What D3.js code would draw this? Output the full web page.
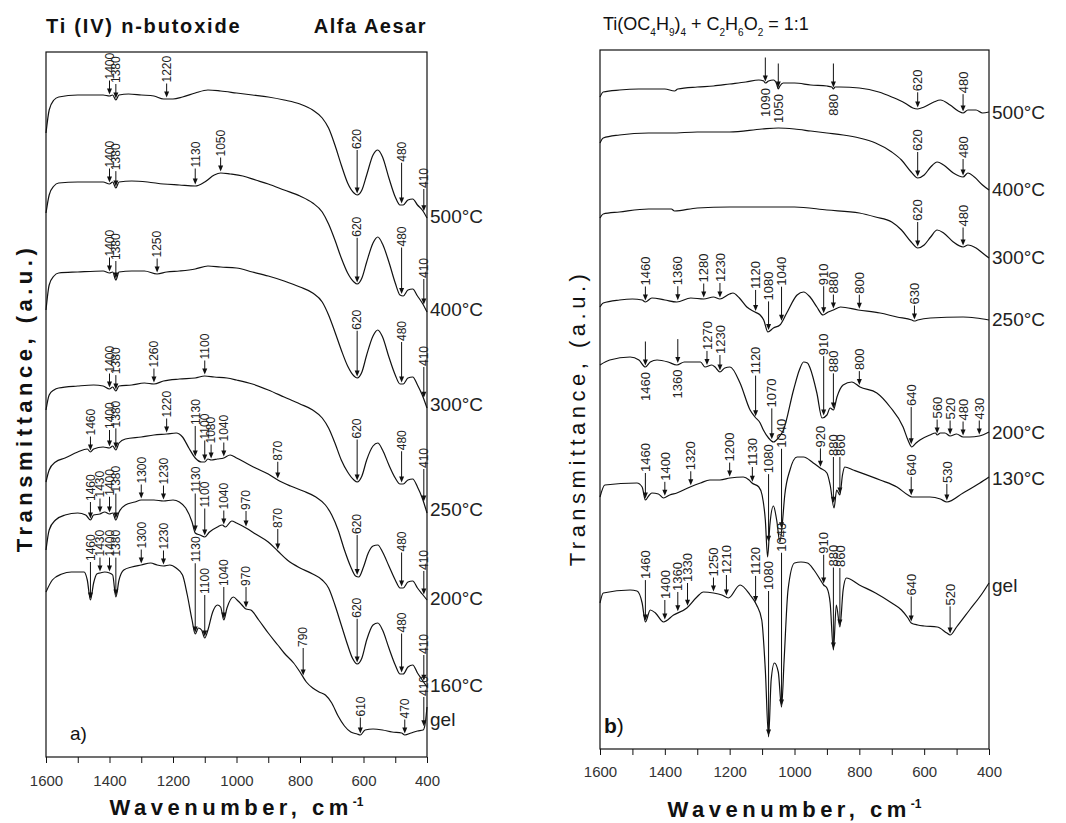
<!DOCTYPE html>
<html>
<head>
<meta charset="utf-8">
<script src="https://cdn.jsdelivr.net/npm/d3@7"></script>
<style>
body { margin: 0; background: #fff; }
text { font-family: "Liberation Sans", Arial, sans-serif; }
</style>
</head>
<body>
<svg width="1066" height="823"></svg>
<script>
// ---- data: [wavenumber, transmittance (a.u., offset per sample)] ----
var xTicks = [1600, 1500, 1400, 1300, 1200, 1100, 1000, 900, 800, 700, 600, 500, 400];

// panel a) Ti (IV) n-butoxide, Alfa Aesar
var aNames = ["500°C", "400°C", "300°C", "250°C", "200°C", "160°C", "gel"];

var a500 = [[1600,86.7],[1590,89.0],[1575,90.0],[1560,90.3],[1500,90.5],[1450,90.5],[1420,90.5],[1400,90.4],[1390,90.5],[1380,90.0],[1370,90.5],[1340,90.6],[1300,90.5],[1260,90.4],[1230,90.1],[1200,90.1],[1170,90.3],[1130,90.7],[1090,91.0],[1050,90.9],[1000,90.7],[950,90.5],[900,90.3],[850,90.0],[800,89.6],[760,89.0],[730,88.2],[710,87.2],[690,85.5],[670,83.5],[650,81.7],[630,80.7],[620,80.5],[605,81.0],[590,82.5],[570,84.5],[555,85.0],[540,84.3],[520,82.2],[500,80.3],[485,79.5],[475,79.5],[460,80.0],[445,80.1],[430,79.5],[415,79.0],[400,78.2]];
var a400 = [[1600,78.7],[1590,80.5],[1575,81.4],[1560,81.7],[1500,81.8],[1420,81.8],[1400,81.6],[1390,81.8],[1380,81.2],[1370,81.8],[1330,81.9],[1280,81.8],[1230,81.6],[1180,81.5],[1130,81.4],[1100,81.8],[1070,82.5],[1050,82.7],[1020,82.6],[980,82.4],[940,82.0],[900,81.6],[850,81.0],[800,80.4],[760,79.7],[730,78.8],[710,77.6],[690,76.0],[670,74.2],[650,72.7],[630,71.8],[620,71.6],[605,72.2],[590,73.8],[570,75.7],[555,76.3],[540,75.6],[520,73.8],[500,71.7],[485,70.5],[475,70.4],[460,71.0],[445,71.1],[430,70.4],[415,69.7],[400,68.8]];
var a300 = [[1600,69.0],[1590,71.5],[1575,72.4],[1560,72.7],[1500,72.8],[1420,72.9],[1400,72.7],[1390,72.8],[1380,72.0],[1370,72.8],[1330,72.9],[1290,72.9],[1250,72.6],[1220,72.8],[1180,72.9],[1130,73.1],[1090,73.4],[1050,73.3],[1000,73.2],[950,72.8],[900,72.4],[850,71.9],[800,71.3],[760,70.7],[730,69.8],[710,68.5],[690,66.8],[670,65.0],[650,63.4],[630,62.4],[620,62.2],[605,62.8],[590,64.5],[570,66.4],[555,67.0],[540,66.3],[520,64.3],[500,62.5],[485,61.6],[475,61.6],[460,62.2],[445,62.3],[430,61.5],[415,60.5],[400,59.2]];
var a250 = [[1600,59.0],[1590,60.5],[1575,61.0],[1560,61.2],[1500,61.4],[1450,61.5],[1420,61.4],[1400,61.1],[1390,61.3],[1380,60.9],[1370,61.4],[1330,61.5],[1290,61.7],[1260,61.6],[1230,61.9],[1180,62.1],[1130,62.2],[1100,62.4],[1070,62.3],[1030,62.2],[1000,62.0],[950,61.6],[900,61.0],[850,60.3],[800,59.6],[760,59.0],[730,58.2],[710,57.2],[690,55.7],[670,54.0],[650,52.8],[630,52.0],[620,51.8],[605,52.4],[590,54.0],[570,55.4],[555,55.7],[540,55.0],[520,53.5],[500,52.2],[485,51.6],[475,51.6],[460,52.0],[445,52.1],[430,51.3],[415,50.2],[400,48.7]];
var a200 = [[1600,51.8],[1590,53.0],[1570,53.8],[1540,54.2],[1500,54.8],[1470,55.1],[1460,54.8],[1450,55.1],[1420,55.3],[1400,55.2],[1390,55.4],[1380,55.0],[1370,55.7],[1350,56.1],[1300,56.3],[1260,56.5],[1220,56.6],[1190,56.7],[1170,56.3],[1150,55.2],[1130,54.2],[1110,53.8],[1100,53.8],[1090,54.1],[1080,54.0],[1060,54.1],[1040,54.2],[1020,54.5],[1000,54.2],[970,53.7],[940,53.2],[900,52.6],[870,52.0],[830,51.4],[790,50.9],[750,50.3],[720,49.5],[700,48.5],[680,47.0],[660,45.0],[640,43.3],[625,42.4],[615,42.3],[600,43.3],[585,44.7],[570,45.4],[555,45.5],[540,44.8],[520,43.4],[500,42.0],[485,41.2],[475,41.2],[460,41.8],[445,41.9],[430,41.2],[415,40.6],[400,40.0]];
var a160 = [[1600,45.0],[1590,47.0],[1570,48.0],[1540,48.5],[1500,48.7],[1475,48.5],[1460,48.0],[1450,48.5],[1430,48.6],[1415,48.8],[1400,48.6],[1390,48.7],[1380,48.0],[1370,48.8],[1350,49.5],[1320,49.8],[1300,50.0],[1260,50.0],[1230,49.9],[1200,50.0],[1180,49.8],[1160,49.2],[1140,47.8],[1130,46.7],[1115,46.5],[1100,46.3],[1085,46.8],[1060,47.3],[1045,47.5],[1035,47.3],[1015,47.9],[1000,47.7],[970,47.2],[940,46.6],[900,45.8],[870,44.9],[840,44.0],[800,43.2],[760,42.6],[730,42.0],[710,41.2],[690,39.5],[670,37.5],[650,35.5],[635,34.2],[620,33.6],[605,34.2],[590,36.0],[570,37.5],[555,37.7],[540,37.0],[520,35.2],[500,33.5],[485,32.6],[475,32.6],[460,33.3],[445,33.5],[430,32.7],[415,32.0],[400,31.3]];
var aGel = [[1600,40.8],[1580,42.0],[1550,42.6],[1520,42.8],[1480,42.8],[1470,42.0],[1460,40.0],[1450,41.7],[1440,42.6],[1430,42.7],[1415,42.8],[1400,42.7],[1390,42.5],[1380,40.3],[1370,42.0],[1355,43.0],[1330,43.3],[1300,43.5],[1270,43.7],[1250,43.5],[1230,43.4],[1210,43.5],[1190,43.2],[1170,42.5],[1155,40.5],[1140,38.0],[1130,36.6],[1120,37.2],[1110,37.0],[1100,36.2],[1090,37.0],[1075,38.8],[1060,39.5],[1050,39.3],[1040,38.0],[1030,39.2],[1010,40.3],[995,39.9],[980,39.4],[970,39.1],[955,39.0],[930,38.0],[900,36.7],[870,35.5],[850,34.7],[820,33.7],[800,32.8],[780,31.8],[760,31.2],[740,30.8],[720,30.5],[700,29.7],[680,28.4],[660,27.4],[640,26.8],[620,26.6],[610,26.5],[595,27.0],[570,27.1],[540,27.0],[510,26.8],[480,26.7],[470,26.5],[450,26.7],[430,26.9],[412,27.0],[405,27.8],[400,29.3]];

var aPeaks = [
  [1400, 1380, 1220, 620, 480, 410],
  [1400, 1380, 1130, 1050, 620, 480, 410],
  [1400, 1380, 1250, 620, 480, 410],
  [1400, 1380, 1260, 1100, 620, 480, 410],
  [1460, 1400, 1380, 1220, 1130, 1100, 1080, 1040, 870, 620, 480, 410],
  [1460, 1430, 1400, 1380, 1300, 1230, 1130, 1100, 1040, 970, 870, 620, 480, 410],
  [1460, 1430, 1400, 1380, 1300, 1230, 1130, 1100, 1040, 970, 790, 610, 470, 410]
];

// panel b) Ti(OC4H9)4 + C2H6O2 = 1:1
var bNames = ["500°C", "400°C", "300°C", "250°C", "200°C", "130°C", "gel"];

var b500 = [[1600,90.3],[1590,90.8],[1540,91.0],[1480,91.1],[1400,91.1],[1370,90.9],[1360,91.1],[1300,91.3],[1250,91.4],[1200,91.6],[1150,91.8],[1110,92.0],[1095,91.9],[1090,91.7],[1080,91.9],[1065,92.0],[1055,91.6],[1050,91.1],[1045,91.4],[1035,91.7],[1000,91.7],[950,91.5],[900,91.4],[885,91.3],[880,91.1],[875,91.3],[860,91.3],[800,91.2],[740,90.8],[700,90.3],[660,89.7],[635,89.2],[620,89.1],[600,89.3],[570,89.8],[550,90.0],[520,89.5],[495,88.9],[480,88.7],[465,89.0],[440,89.0],[420,88.7],[400,88.8]];
var b400 = [[1600,85.7],[1590,86.2],[1540,86.5],[1450,86.7],[1380,86.7],[1300,86.8],[1200,86.8],[1100,87.1],[1050,87.2],[1000,87.1],[950,86.9],[900,86.7],[850,86.5],[800,86.2],[750,85.7],[700,84.8],[670,84.0],[640,82.8],[620,82.2],[600,82.5],[580,83.3],[560,83.8],[540,83.5],[510,82.7],[480,82.3],[465,82.7],[445,82.3],[420,81.5],[400,81.0]];
var b300 = [[1600,78.2],[1590,78.6],[1540,78.8],[1450,79.1],[1380,79.1],[1370,78.9],[1300,79.2],[1200,79.3],[1100,79.3],[1000,79.3],[900,79.0],[800,78.7],[750,78.3],[700,77.8],[670,77.0],[640,75.8],[620,75.2],[600,75.5],[580,76.3],[560,77.0],[540,76.7],[510,75.8],[480,75.3],[465,75.5],[440,75.2],[420,74.7],[400,74.2]];
var b250 = [[1600,69.3],[1590,69.7],[1540,70.0],[1500,70.1],[1470,70.0],[1460,69.8],[1440,70.2],[1400,70.0],[1363,69.8],[1320,70.2],[1280,70.1],[1250,70.3],[1230,70.1],[1200,70.6],[1190,70.7],[1170,70.2],[1147,69.3],[1122,68.8],[1106,68.5],[1095,68.0],[1082,66.8],[1065,67.2],[1045,67.5],[1024,68.7],[992,70.5],[972,70.8],[952,70.3],[931,69.3],[912,68.5],[896,68.8],[880,69.0],[858,69.3],[804,69.0],[736,68.7],[684,68.3],[638,68.0],[630,67.9],[620,68.0],[581,68.2],[480,68.3],[440,68.2],[400,68.0]];
var b200 = [[1600,63.5],[1570,64.0],[1507,64.3],[1480,64.0],[1460,63.3],[1445,63.8],[1424,64.0],[1390,63.8],[1363,63.5],[1340,63.8],[1322,63.8],[1290,63.8],[1276,63.3],[1255,63.5],[1245,63.3],[1230,62.8],[1215,63.2],[1199,63.3],[1168,61.7],[1137,59.0],[1122,58.3],[1106,57.7],[1096,57.0],[1080,56.2],[1065,55.8],[1050,56.2],[1034,57.0],[1003,61.0],[985,63.0],[972,63.8],[960,63.7],[952,63.2],[931,60.7],[915,58.2],[900,58.5],[890,59.2],[880,59.0],[869,60.3],[850,61.5],[823,61.8],[798,61.3],[746,60.7],[705,59.3],[665,57.3],[650,56.0],[638,55.3],[625,55.7],[613,56.0],[582,56.5],[565,56.7],[560,56.5],[550,56.7],[536,56.7],[520,56.4],[500,56.6],[480,56.3],[460,56.3],[430,56.4],[400,56.8]];
var b130 = [[1600,50.3],[1585,51.5],[1486,51.7],[1470,51.3],[1460,50.0],[1450,50.4],[1440,50.7],[1420,50.6],[1404,50.2],[1385,50.5],[1363,50.7],[1322,51.3],[1290,51.7],[1261,52.0],[1230,52.0],[1199,52.2],[1158,52.3],[1140,52.0],[1131,51.7],[1110,51.3],[1100,50.5],[1090,48.0],[1083,44.3],[1076,47.5],[1065,49.4],[1055,48.0],[1045,45.8],[1038,47.5],[1030,50.5],[1014,53.0],[992,54.3],[972,54.3],[942,53.7],[921,53.2],[900,52.7],[890,51.5],[878,49.2],[870,51.0],[860,50.5],[852,52.5],[845,53.3],[819,53.0],[736,52.0],[684,51.3],[650,50.5],[638,50.3],[582,50.3],[550,50.1],[530,49.8],[480,50.7],[428,51.7],[400,52.3]];
var bGel = [[1600,39.7],[1590,40.7],[1507,41.0],[1486,40.9],[1470,39.7],[1460,37.8],[1445,39.0],[1429,38.7],[1404,37.8],[1373,38.5],[1332,39.2],[1301,40.3],[1281,40.8],[1250,40.7],[1224,40.5],[1204,40.2],[1168,41.5],[1137,40.5],[1117,39.5],[1101,38.0],[1090,33.0],[1080,26.3],[1072,32.0],[1062,33.7],[1050,32.8],[1040,29.3],[1032,34.0],[1020,41.0],[1000,43.7],[980,43.8],[960,43.7],[940,43.0],[920,42.0],[910,41.5],[900,41.2],[890,39.7],[880,35.0],[871,39.5],[860,37.3],[850,41.0],[840,42.2],[800,41.5],[750,40.7],[700,39.7],[670,39.0],[650,38.2],[640,37.7],[620,37.5],[600,37.4],[560,37.3],[530,36.7],[520,36.5],[500,37.3],[460,39.0],[420,40.7],[400,41.7]];

var bPeaks = [
  [1090, 1050, 880, 620, 480],
  [620, 480],
  [620, 480],
  [1460, 1360, 1280, 1230, 1120, 1080, 1040, 910, 880, 800, 630],
  [1460, 1360, 1270, 1230, 1120, 1070, 910, 880, 800, 640, 560, 520, 480, 430],
  [1460, 1400, 1320, 1200, 1130, 1080, 1040, 920, 880, 860, 640, 530],
  [1460, 1400, 1360, 1330, 1250, 1210, 1120, 1080, 1040, 910, 880, 860, 640, 520]
];
// peaks whose numbers sit under the trace
var bPeaksBelow = { 0: [1090, 1050, 880], 4: [1460, 1360] };

// ---- drawing ----
var svg = d3.select("svg");
var FONT = "'Liberation Sans', Arial, sans-serif";

function valueAt(series, w) {
  for (var i = 0; i < series.length - 1; i++) {
    var p = series[i], q = series[i + 1];
    if (w <= p[0] && w >= q[0]) {
      var t = (p[0] - w) / (p[0] - q[0]);
      return p[1] + t * (q[1] - p[1]);
    }
  }
  return series[series.length - 1][1];
}

function localMax(series, w, half) {
  var m = valueAt(series, w);
  series.forEach(function (d) {
    if (Math.abs(d[0] - w) <= half && d[1] > m) m = d[1];
  });
  [w - half, w + half].forEach(function (e) {
    if (e >= 400 && e <= 1600) m = Math.max(m, valueAt(series, e));
  });
  return m;
}

function drawPanel(cfg) {
  var x = d3.scaleLinear().domain([1600, 400]).range([cfg.left, cfg.right]);
  var y = d3.scaleLinear().domain(cfg.yDomain).range([cfg.bottom, cfg.top]);
  var g = svg.append("g");

  var axis = d3.axisBottom(x)
      .tickValues(xTicks)
      .tickSize(6)
      .tickPadding(cfg.tickPad)
      .tickFormat(function (d) { return d % 200 === 0 ? d : ""; });
  var ax = g.append("g")
      .attr("transform", "translate(0," + cfg.bottom + ")")
      .call(axis);
  ax.select(".domain").remove();
  ax.selectAll("line").attr("stroke", "#111");
  ax.selectAll("text")
      .attr("font-size", 15)
      .attr("fill", "#333")
      .attr("font-family", FONT);

  g.append("rect")
      .attr("x", cfg.left).attr("y", cfg.top)
      .attr("width", cfg.right - cfg.left).attr("height", cfg.bottom - cfg.top)
      .attr("fill", "none").attr("stroke", "#111").attr("stroke-width", 1.2);

  var line = d3.line()
      .x(function (d) { return x(d[0]); })
      .y(function (d) { return y(d[1]); })
      .curve(d3.curveMonotoneX);

  cfg.series.forEach(function (s, i) {
    g.append("path")
        .attr("d", line(s))
        .attr("fill", "none")
        .attr("stroke", "#111")
        .attr("stroke-width", 1.2);

    g.append("text")
        .attr("x", cfg.right + 3)
        .attr("y", y(valueAt(s, 404)))
        .attr("dy", "0.35em")
        .attr("font-size", 19)
        .attr("fill", "#222")
        .text(cfg.names[i]);

    var below = (cfg.below && cfg.below[i]) || [];
    cfg.peaks[i].forEach(function (w) {
      var px = x(w);
      var curveY = y(valueAt(s, w));
      var tip = curveY - 1.5;
      var isBelow = below.indexOf(w) >= 0;
      var top = isBelow ? tip - 24 : Math.min(tip - 14, y(localMax(s, w, 45)) - 10);
      g.append("line")
          .attr("x1", px).attr("x2", px)
          .attr("y1", top).attr("y2", tip - 4)
          .attr("stroke", "#111").attr("stroke-width", 1);
      g.append("path")
          .attr("d", "M" + (px - 2.5) + "," + (tip - 6) + "L" + (px + 2.5) + "," + (tip - 6) + "L" + px + "," + tip + "Z")
          .attr("fill", "#111");
      var lx = px + cfg.peakFont * 0.36;
      var ly = isBelow ? curveY + 5 : top - 1;
      g.append("text")
          .attr("transform", "translate(" + lx + "," + ly + ") rotate(-90)")
          .attr("text-anchor", isBelow ? "end" : "start")
          .attr("font-size", cfg.peakFont)
          .attr("fill", "#222")
          .text(w);
    });
  });

  // axis titles
  var xt = g.append("text")
      .attr("x", (cfg.left + cfg.right) / 2)
      .attr("y", cfg.bottom + cfg.xTitleDrop)
      .attr("text-anchor", "middle")
      .attr("font-size", 22)
      .attr("font-weight", "bold")
      .attr("letter-spacing", 4.5)
      .attr("fill", "#111");
  xt.append("tspan").text("Wavenumber, cm");
  xt.append("tspan").attr("font-size", 12).attr("dy", -9).attr("letter-spacing", 0).text("-1");

  g.append("text")
      .attr("transform", "translate(" + cfg.yTitleX + "," + cfg.yTitleY + ") rotate(-90)")
      .attr("text-anchor", "middle")
      .attr("font-size", 22)
      .attr("font-weight", cfg.yTitleWeight)
      .attr("letter-spacing", cfg.yTitleSpacing)
      .attr("fill", "#111")
      .text("Transmittance, (a.u.)");

  return { x: x, y: y, g: g };
}

drawPanel({
  left: 46, right: 427, top: 52, bottom: 757,
  yDomain: [24.3, 94.8],
  series: [a500, a400, a300, a250, a200, a160, aGel],
  names: aNames, peaks: aPeaks, peakFont: 12,
  tickPad: 12, xTitleDrop: 58,
  yTitleX: 32, yTitleY: 398, yTitleWeight: "bold", yTitleSpacing: 4.5
});

drawPanel({
  left: 600, right: 989, top: 50, bottom: 749,
  yDomain: [25.1, 95.0],
  series: [b500, b400, b300, b250, b200, b130, bGel],
  names: bNames, peaks: bPeaks, below: bPeaksBelow, peakFont: 13,
  tickPad: 11, xTitleDrop: 68,
  yTitleX: 585, yTitleY: 418, yTitleWeight: "normal", yTitleSpacing: 4.5
});

// panel titles
svg.append("text").attr("x", 46).attr("y", 33)
    .attr("font-size", 20).attr("font-weight", "bold").attr("letter-spacing", 1.8)
    .attr("fill", "#111").text("Ti (IV) n-butoxide");
svg.append("text").attr("x", 427).attr("y", 33).attr("text-anchor", "end")
    .attr("font-size", 20).attr("font-weight", "bold").attr("letter-spacing", 1.5)
    .attr("fill", "#111").text("Alfa Aesar");

var titleB = [["Ti(OC", 0], ["4", 1], ["H", 0], ["9", 1], [")", 0], ["4", 1], [" + C", 0], ["2", 1], ["H", 0], ["6", 1], ["O", 0], ["2", 1], [" = 1:1", 0]];
var tb = svg.append("text").attr("x", 603).attr("y", 30)
    .attr("font-size", 18).attr("fill", "#111");
var prevSub = 0;
titleB.forEach(function (p) {
  var dy = p[1] === prevSub ? 0 : (p[1] ? 6 : -6);
  tb.append("tspan")
      .attr("dy", dy)
      .attr("font-size", p[1] ? 10 : 18)
      .text(p[0]);
  prevSub = p[1];
});

// panel letters
svg.append("text").attr("x", 70).attr("y", 740)
    .attr("font-size", 19).attr("fill", "#111").text("a)");
var lb = svg.append("text").attr("x", 604).attr("y", 733)
    .attr("font-size", 21).attr("fill", "#111");
lb.append("tspan").attr("font-weight", "bold").text("b");
lb.append("tspan").text(")");
</script>
</body>
</html>
